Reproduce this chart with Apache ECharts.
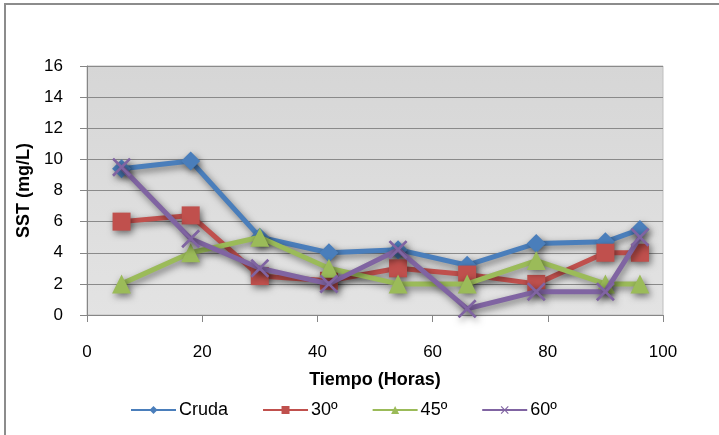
<!DOCTYPE html>
<html>
<head>
<meta charset="utf-8">
<script src="https://cdn.jsdelivr.net/npm/echarts@6/dist/echarts.min.js"></script>
<style>
  html, body { margin: 0; padding: 0; background: #ffffff; }
  #chart { width: 719px; height: 435px; }
</style>
</head>
<body>
<div id="chart"></div>
<script>
// Sampling times (hours)
const hours = [6, 18, 30, 42, 54, 66, 78, 90, 96];

// SST (mg/L) per treatment
const seriesNames = ['Cruda', '30º', '45º', '60º'];
const cruda = [9.4, 9.9, 5.0, 4.0, 4.2, 3.2, 4.6, 4.7, 5.5];
const deg30 = [6.0, 6.4, 2.5, 2.2, 3.0, 2.6, 2.0, 4.0, 4.0];
const deg45 = [2.0, 4.0, 5.0, 3.0, 2.0, 2.0, 3.5, 2.0, 2.0];
const deg60 = [9.5, 4.9, 3.0, 2.0, 4.2, 0.4, 1.5, 1.5, 5.0];

const yTicks = [0, 2, 4, 6, 8, 10, 12, 14, 16];
const xTicks = [0, 20, 40, 60, 80, 100];

const FONT = '"Liberation Sans", Arial, sans-serif';
const colors = ['#4a7ebb', '#c0504d', '#9bbb59', '#8064a2'];
const crossPath = 'path://M0,1 L1,0 L5,4 L9,0 L10,1 L6,5 L10,9 L9,10 L5,6 L1,10 L0,9 L4,5 Z';
const symbols = ['diamond', 'rect', 'triangle', crossPath];
const sizes = [19, 18, 19, 19];
const values = [cruda, deg30, deg45, deg60];

const chart = echarts.init(document.getElementById('chart'), null, { renderer: 'canvas' });

const shadow = { shadowColor: 'rgba(0,0,0,0.5)', shadowBlur: 7, shadowOffsetX: 2, shadowOffsetY: 3 };

const series = values.map((vals, i) => ({
  name: seriesNames[i],
  type: 'line',
  data: hours.map((h, k) => [h, vals[k]]),
  symbol: symbols[i],
  symbolSize: sizes[i],
  showAllSymbol: true,
  z: 2 + i,
  lineStyle: Object.assign({ color: colors[i], width: 5 }, shadow),
  itemStyle: Object.assign({ color: colors[i] }, shadow),
  emphasis: { disabled: true },
  animation: false
}));

chart.setOption({
  animation: false,
  color: colors,
  graphic: [
    {
      type: 'polyline',
      shape: { points: [[5, 440], [5, 4], [725, 4]] },
      style: { stroke: '#8c8c8c', lineWidth: 2, fill: null },
      silent: true
    }
  ],
  grid: {
    left: 87, right: 56, top: 66, bottom: 120,
    show: true,
    borderColor: '#bfbfbf',
    borderWidth: 1,
    backgroundColor: new echarts.graphic.LinearGradient(0, 0, 0, 1, [
      { offset: 0, color: '#d6d6d6' },
      { offset: 1, color: '#e3e3e3' }
    ])
  },
  xAxis: {
    type: 'value',
    min: xTicks[0], max: xTicks[xTicks.length - 1], interval: 20,
    name: 'Tiempo (Horas)',
    nameLocation: 'middle',
    nameGap: 56,
    nameTextStyle: { fontFamily: FONT, fontSize: 18, fontWeight: 'bold', color: '#000' },
    axisLine: { show: true, lineStyle: { color: '#868686', width: 1 } },
    axisTick: { show: true, length: 7, lineStyle: { color: '#868686' } },
    axisLabel: {
      fontFamily: FONT, fontSize: 17, color: '#000', margin: 29,
      formatter: v => (xTicks.includes(v) ? String(v) : '')
    },
    splitLine: { show: false }
  },
  yAxis: {
    type: 'value',
    min: yTicks[0], max: yTicks[yTicks.length - 1], interval: 2,
    name: 'SST (mg/L)',
    nameLocation: 'middle',
    nameGap: 48,
    nameRotate: 90,
    nameTextStyle: { fontFamily: FONT, fontSize: 18, fontWeight: 'bold', color: '#000' },
    axisLine: { show: true, lineStyle: { color: '#868686', width: 1 } },
    axisTick: { show: true, length: 7, lineStyle: { color: '#868686' } },
    axisLabel: {
      fontFamily: FONT, fontSize: 17, color: '#000', margin: 24,
      formatter: v => (yTicks.includes(v) ? String(v) : '')
    },
    splitLine: { show: true, lineStyle: { color: '#8a8a8a', width: 1 } }
  },
  legend: {
    data: seriesNames,
    left: 125,
    top: 396,
    itemWidth: 45,
    itemHeight: 10,
    itemGap: 34,
    textStyle: { fontFamily: FONT, fontSize: 18, color: '#000', padding: [0, 0, 0, -2] },
    lineStyle: { width: 2, shadowBlur: 0, shadowOffsetX: 0, shadowOffsetY: 0 },
    itemStyle: { shadowBlur: 0, shadowOffsetX: 0, shadowOffsetY: 0 }
  },
  series: series
});
</script>
</body>
</html>
